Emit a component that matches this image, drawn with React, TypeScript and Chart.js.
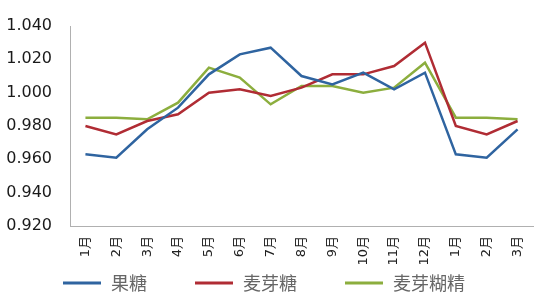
import React, { useEffect, useRef } from "react";
import { Chart, registerables } from "chart.js";

Chart.register(...registerables);

const categories = ["1月", "2月", "3月", "4月", "5月", "6月", "7月", "8月", "9月", "10月", "11月", "12月", "1月", "2月", "3月"];
const fructose = [0.963, 0.961, 0.978, 0.991, 1.011, 1.023, 1.027, 1.010, 1.005, 1.012, 1.002, 1.012, 0.963, 0.961, 0.978];
const maltose = [0.980, 0.975, 0.983, 0.987, 1.000, 1.002, 0.998, 1.003, 1.011, 1.011, 1.016, 1.030, 0.980, 0.975, 0.983];
const maltodextrin = [0.985, 0.985, 0.984, 0.994, 1.015, 1.009, 0.993, 1.004, 1.004, 1.000, 1.003, 1.018, 0.985, 0.985, 0.984];
const seriesNames = ["果糖", "麦芽糖", "麦芽糊精"];
const seriesColors = ["#2f64a0", "#b02c34", "#8cae3e"];

const legendPlugin = {
  id: "customLegend",
  afterDraw(chart: any) {
    const ctx = chart.ctx;
    const font = '18px "Noto Sans CJK SC"';
    ctx.save();
    ctx.font = font;
    const lineW = 38;
    const gapText = 10;
    const gapItem = 48;
    const widths = chart.data.datasets.map((d: any) => lineW + gapText + ctx.measureText(d.label).width);
    const total = widths.reduce((a: number, b: number) => a + b, 0) + gapItem * (widths.length - 1);
    let x = (chart.width - total) / 2 - 11;
    const y = 283;
    chart.data.datasets.forEach((d: any, i: number) => {
      ctx.strokeStyle = d.borderColor;
      ctx.lineWidth = 3;
      ctx.beginPath();
      ctx.moveTo(x, y);
      ctx.lineTo(x + lineW, y);
      ctx.stroke();
      ctx.fillStyle = "#666";
      ctx.textBaseline = "middle";
      ctx.textAlign = "left";
      ctx.fillText(d.label, x + lineW + gapText, y);
      x += widths[i] + gapItem;
    });
    ctx.restore();
  },
};

export default function App() {
  const ref = useRef<HTMLCanvasElement>(null);
  useEffect(() => {
    document.body.style.margin = "0";
    const values = [fructose, maltose, maltodextrin];
    const chart = new Chart(ref.current!, {
      type: "line",
      data: {
        labels: categories,
        datasets: values.map((v, i) => ({
          label: seriesNames[i],
          data: v,
          borderColor: seriesColors[i],
          backgroundColor: seriesColors[i],
          borderWidth: 2.5,
          pointRadius: 0,
          tension: 0,
        })),
      },
      options: {
        responsive: false,
        animation: false,
        layout: { padding: { left: 0, right: 17, top: 20, bottom: 30 } },
        plugins: { legend: { display: false }, tooltip: { enabled: false } },
        scales: {
          x: {
            offset: true,
            grid: { display: false, drawTicks: false },
            border: { display: true, color: "#b0b0b0", width: 1 },
            ticks: {
              minRotation: 90,
              maxRotation: 90,
              autoSkip: false,
              padding: 10,
              color: "#222",
              font: { family: '"DejaVu Sans", "Noto Sans CJK SC"', size: 13 },
            },
            afterFit(scale: any) {
              scale.height = 44;
            },
          },
          y: {
            min: 0.92,
            max: 1.04,
            grid: { display: false, drawTicks: false },
            border: { display: true, color: "#b0b0b0", width: 1 },
            ticks: {
              stepSize: 0.02,
              padding: 18,
              color: "#1a1a1a",
              font: { family: '"DejaVu Sans"', size: 16, lineHeight: 1 },
              callback: (v: any) => Number(v).toFixed(3),
            },
            afterFit(scale: any) {
              scale.width = 70;
            },
          },
        },
      },
      plugins: [legendPlugin],
    });
    return () => chart.destroy();
  }, []);
  return (
    <div style={{ width: 550, height: 300 }}>
      <canvas ref={ref} width={550} height={300} />
    </div>
  );
}
